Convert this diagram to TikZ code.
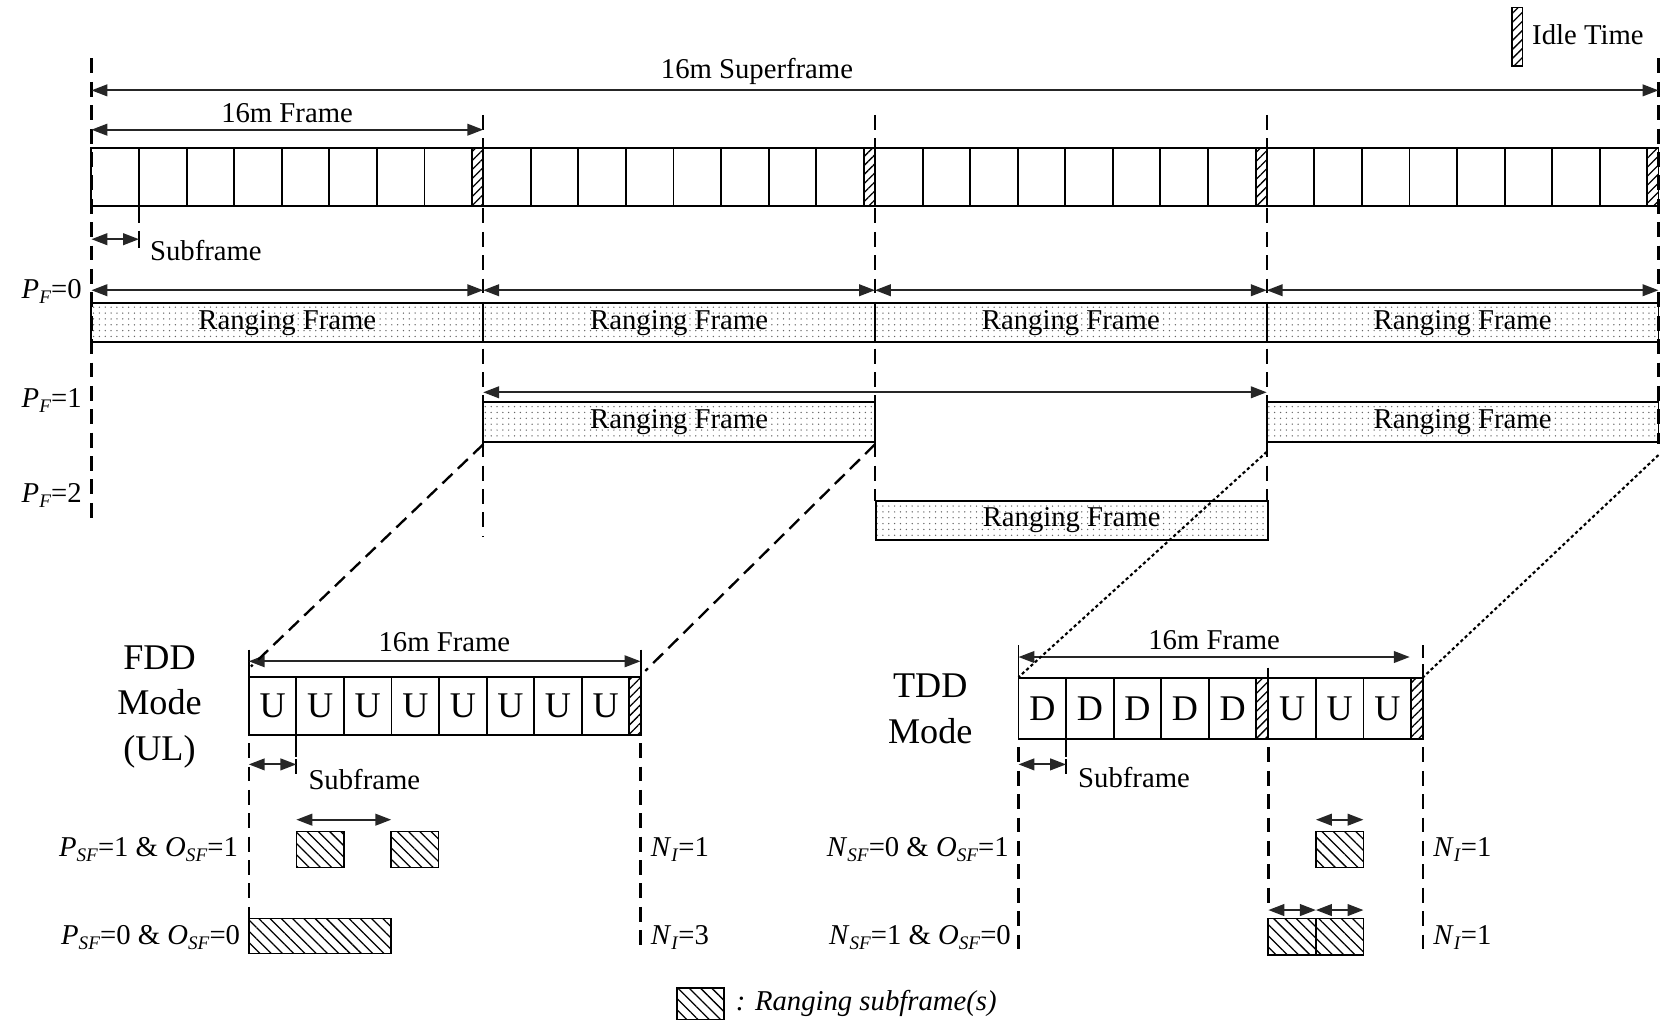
\documentclass[tikz,border=0pt]{standalone}
\usepackage{fontspec}
\setmainfont{Liberation Serif}
\usetikzlibrary{arrows.meta,patterns.meta}
\newcommand\sbs[1]{\raisebox{-0.35ex}{\fontsize{18}{18}\selectfont\textit{#1}}}
\newcommand\txt{\fontsize{27}{30}\selectfont}
\newcommand\bigtxt{\fontsize{34}{43}\selectfont}
\begin{document}
\begin{tikzpicture}[x=1pt,y=-1pt,
  frm/.style={draw=black,line width=1.8pt},
  vdash/.style={draw=black,line width=2.2pt,dash pattern=on 14pt off 8pt},
  vdot/.style={draw=black,line width=2pt,dash pattern=on 3pt off 2.5pt},
  dim/.style={draw=black!85,line width=1.8pt,{Triangle[length=15pt,width=11pt]}-{Triangle[length=15pt,width=11pt]}},
  rng/.style={draw=black,line width=1.8pt,pattern={Dots[distance=5.5pt,radius=0.7pt]},pattern color=black!60,inner sep=0pt,outer sep=0pt,font=\txt,minimum width=368.5pt,minimum height=37pt},
  idle/.style={draw=black,line width=1.5pt,pattern={Lines[angle=45,distance=6pt,line width=1.2pt]}},
  hatch/.style={draw=black,line width=1.6pt,pattern={Lines[angle=-45,distance=7.5pt,line width=1.2pt]}},
  lab/.style={font=\txt,inner sep=0pt},
  big/.style={font=\bigtxt,inner sep=0pt,align=center}
]
\useasboundingbox (0,0) rectangle (1568,960);

% ---------- boundary coordinates ----------
\coordinate (B0) at (86,0);
\coordinate (B1) at (454.5,0);
\coordinate (B2) at (823,0);
\coordinate (B3) at (1191.5,0);
\coordinate (B4) at (1560,0);

% ---------- legend idle ----------
\draw[idle] (1422,7) rectangle (1432,62);
\node[lab,anchor=west] (idl) at (1441,33) {Idle Time};

% ---------- vertical dashed lines ----------
\draw[vdash] (86,55) -- (86,492);
\draw[vdash] (454.5,108) -- (454.5,505);
\draw[vdash] (823,108) -- (823,471);
\draw[vdash] (1191.5,108) -- (1191.5,471);
\draw[vdash] (1560,55) -- (1560,418);

% ---------- superframe ----------
\node[lab] (sup) at (712,67) {16m Superframe};
\draw[dim] (86,85) -- (1560,85);
\node[lab] (frl) at (270,106) {16m Frame};
\draw[dim] (86,122) -- (454.5,122);

% ---------- main frame row ----------
\draw[frm] (86,139) rectangle (1560,194);
\foreach \k in {0,...,3} {
  \pgfmathsetmacro\bx{86+368.5*\k}
  \foreach \j in {1,...,8} { \draw[frm] (\bx+44.75*\j,139) -- (\bx+44.75*\j,194); }
  \draw[idle] (\bx+358,139) rectangle (\bx+368.5,194);
}
\draw[frm] (130.75,194) -- (130.75,210);
\draw[frm] (130.75,217) -- (130.75,233);
\draw[dim] (86,225) -- (130.75,225);
\node[lab,anchor=west] (sfl) at (141,236) {Subframe};

% ---------- P_F = 0 ----------
\node[lab,anchor=east] (pf0) at (77,274) {\textit{P}\sbs{F}=0};
\draw[dim] (86,273) -- (454.5,273);
\draw[dim] (454.5,273) -- (823,273);
\draw[dim] (823,273) -- (1191.5,273);
\draw[dim] (1191.5,273) -- (1560,273);
\node[rng] (r0a) at (270.25,303.5) {Ranging Frame};
\node[rng] (r0b) at (638.75,303.5) {Ranging Frame};
\node[rng] (r0c) at (1007.25,303.5) {Ranging Frame};
\node[rng] (r0d) at (1375.75,303.5) {Ranging Frame};

% ---------- P_F = 1 ----------
\node[lab,anchor=east] (pf1) at (77,377) {\textit{P}\sbs{F}=1};
\draw[dim] (454.5,369) -- (1191.5,369);
\node[rng] (r1a) at (638.75,397) {Ranging Frame};
\node[rng] (r1b) at (1375.75,397) {Ranging Frame};

% ---------- P_F = 2 ----------
\node[lab,anchor=east] (pf2) at (77,466) {\textit{P}\sbs{F}=2};
\node[rng] (r2a) at (1008,489.5) {Ranging Frame};

% ---------- FDD frame ----------
\node[big] (fdd) at (150,665) {FDD\\Mode\\(UL)};
\draw[frm] (234,637) rectangle (602.5,691);
\foreach \j in {1,...,8} { \draw[frm] (234+44.75*\j,637) -- (234+44.75*\j,691); }
\foreach \j in {0,...,7} { \node[big] at (256.4+44.75*\j,664) {U}; }
\draw[idle] (592,637) rectangle (602.5,691);
\draw[frm] (234,611) -- (234,637);
\draw[frm] (602.5,611) -- (602.5,637);
\node[lab] (ffl) at (418,604) {16m Frame};
\draw[dim] (234,622) -- (602.5,622);
\draw[frm] (278.75,691) -- (278.75,712);
\draw[frm] (278.75,714) -- (278.75,728);
\draw[dim] (234,719) -- (278.75,719);
\node[lab,anchor=west] (fsl) at (290,733) {Subframe};
\draw[vdash] (234,699) -- (234,895);
\draw[vdash] (602.5,699) -- (602.5,895);

% diagonals to FDD
\draw[vdash,dash pattern=on 13pt off 7pt] (454.5,418) -- (236,627);
\draw[vdash,dash pattern=on 13pt off 7pt] (823,418) -- (607,631);

% FDD ranging rows
\node[lab,anchor=east] (fr1) at (224,799) {\textit{P}\sbs{SF}=1 \& \textit{O}\sbs{SF}=1};
\draw[hatch] (278.75,782) rectangle (323.5,816);
\draw[hatch] (368,782) rectangle (412.5,816);
\draw[dim] (278.75,771) -- (368,771);
\node[lab,anchor=west] (fn1) at (612,799) {\textit{N}\sbs{I}=1};
\node[lab,anchor=east] (fr2) at (226,882) {\textit{P}\sbs{SF}=0 \& \textit{O}\sbs{SF}=0};
\draw[hatch] (234,864) rectangle (368,897);
\node[lab,anchor=west] (fn2) at (612,882) {\textit{N}\sbs{I}=3};

% ---------- TDD frame ----------
\node[big] (tdd) at (875,667) {TDD\\Mode};
\draw[frm] (958,638) rectangle (1338.5,695);
\foreach \j in {1,...,5} { \draw[frm] (958+44.75*\j,638) -- (958+44.75*\j,695); }
\foreach \j in {0,...,4} { \node[big] at (980.4+44.75*\j,667) {D}; }
\draw[idle] (1181.75,638) rectangle (1193,695);
\foreach \j in {1,2,3} { \draw[frm] (1193+44.75*\j,638) -- (1193+44.75*\j,695); }
\foreach \j in {0,1,2} { \node[big] at (1215.4+44.75*\j,667) {U}; }
\draw[idle] (1327.25,638) rectangle (1338.5,695);
\draw[frm] (958,607) -- (958,638);
\draw[frm] (1193,628) -- (1193,695);
\draw[vdash,dash pattern=on 12pt off 6pt] (1338.5,607) -- (1338.5,638);
\node[lab] (tfl) at (1142,602) {16m Frame};
\draw[dim] (958,618) -- (1326,618);
\draw[frm] (1002.75,695) -- (1002.75,712);
\draw[frm] (1002.75,714) -- (1002.75,728);
\draw[dim] (958,719) -- (1002.75,719);
\node[lab,anchor=west] (tsl) at (1014,731) {Subframe};
\draw[vdash] (958,703) -- (958,895);
\draw[vdash] (1193,703) -- (1193,850);
\draw[vdash] (1338.5,703) -- (1338.5,895);

% dotted diagonals to TDD
\draw[vdot] (1191.5,425) -- (958,637);
\draw[vdot] (1560,428) -- (1338.5,637);

% TDD ranging rows
\node[lab,anchor=east] (tr1) at (949,799) {\textit{N}\sbs{SF}=0 \& \textit{O}\sbs{SF}=1};
\draw[hatch] (1237.75,782) rectangle (1282.5,816);
\draw[dim] (1237.75,771) -- (1282.5,771);
\node[lab,anchor=west] (tn1) at (1348,799) {\textit{N}\sbs{I}=1};
\node[lab,anchor=east] (tr2) at (951,882) {\textit{N}\sbs{SF}=1 \& \textit{O}\sbs{SF}=0};
\draw[hatch] (1193,864) rectangle (1237.75,898);
\draw[hatch] (1237.75,864) rectangle (1282.5,898);
\draw[dim] (1193,856) -- (1237.75,856);
\draw[dim] (1237.75,856) -- (1282.5,856);
\node[lab,anchor=west] (tn2) at (1348,882) {\textit{N}\sbs{I}=1};

% ---------- legend ranging subframe ----------
\draw[hatch] (637,929) rectangle (681,959);
\node[lab,anchor=west] (rsl) at (692,944) {\textit{: Ranging subframe(s)}};
\end{tikzpicture}
\end{document}
